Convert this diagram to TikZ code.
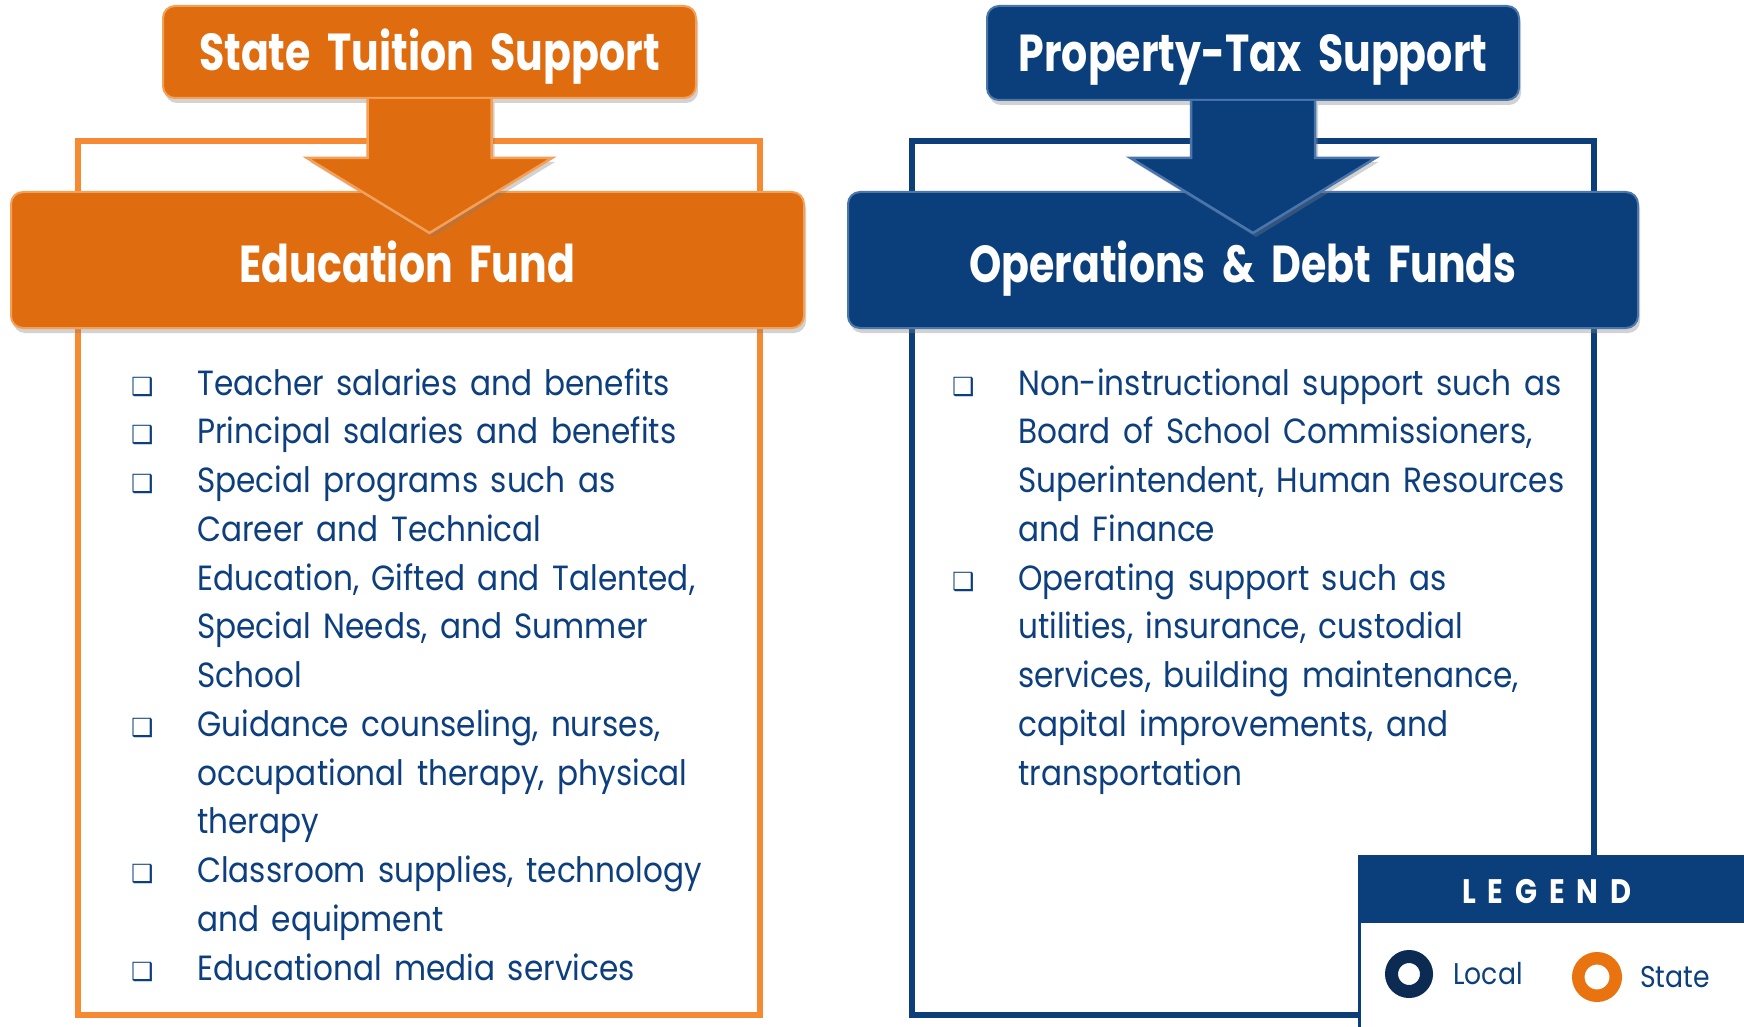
\documentclass[tikz,border=0pt]{standalone}
\usepackage{fontspec}
\setmainfont{Poppins}
\newfontfamily\hdfont{Poppins}[FakeStretch=0.79,WordSpace=1.9]
\newfontfamily\bodyfont{Poppins}[FakeStretch=0.89,WordSpace=1.5]
\newfontfamily\lgfont{Poppins}[FakeStretch=0.85,LetterSpace=35]
\newfontfamily\symfont{DejaVu Sans}
\usetikzlibrary{shadows,calc}
\definecolor{orgH}{HTML}{E06C10}
\definecolor{orgL}{HTML}{F58A32}
\definecolor{orgRim}{HTML}{F4A057}
\definecolor{bluH}{HTML}{0B3F7C}
\definecolor{bluRim}{HTML}{4A76AC}
\definecolor{bluL}{HTML}{0C3E7A}
\definecolor{txt}{HTML}{0D3F7E}
\definecolor{navy}{HTML}{0B2B52}
\definecolor{ringO}{HTML}{E8730F}
\tikzset{
  hdr/.style={rounded corners=12pt, text=white, inner sep=0pt, line width=2pt,
    font=\hdfont\bfseries\fontsize{52}{60}\selectfont, text height=37pt, text depth=0pt,
    drop shadow={shadow xshift=2pt,shadow yshift=-5pt,opacity=.35}},
  ohdr/.style={hdr, fill=orgH, draw=orgRim},
  bhdr/.style={hdr, fill=bluH, draw=bluRim},
  lowtext/.style={text height=45pt},
  blockarrow/.style={line width=2.5pt, line join=miter,
    drop shadow={shadow xshift=3pt,shadow yshift=-4pt,opacity=.35}},
  oarrow/.style={blockarrow, fill=orgH, draw=orgRim},
  barrowshape/.style={blockarrow, fill=bluH, draw=bluRim},
  panel/.style={line width=6pt, inner sep=0pt, minimum width=682pt, minimum height=874pt},
  item/.style={anchor=base west, align=left, inner sep=0pt, text=txt,
    font=\bodyfont\fontsize{35}{48.75}\selectfont},
  bul/.style={anchor=base west, inner sep=0pt, text=txt,
    font=\symfont\fontsize{25}{30}\selectfont},
  ring/.style={circle, inner sep=0pt},
  legtext/.style={anchor=base west, inner sep=0pt, text=txt,
    font=\bodyfont\fontsize{30}{36}\selectfont}
}
\begin{document}
\begin{tikzpicture}[x=1pt,y=-1pt]
\useasboundingbox[fill=white] (0,0) rectangle (1744,1027);
% panels
\node[panel, draw=orgL] (lp) at (419,578) {};
\node[panel, draw=bluL] (rp) at (1253,578) {};
% left header
\node[ohdr, lowtext, minimum width=793pt, minimum height=136pt] (ef) at (407.5,260) {Education Fund};
\node[ohdr, minimum width=533pt, minimum height=92pt] (st) at (429.5,52) {State Tuition Support};
\coordinate (eftip) at ($(st.south |- ef.north)+(0,42)$);
\coordinate (efhb) at ($(eftip)+(0,-75)$);
\path[oarrow] ($(st.south)+(-62,0)$) -- ($(efhb)+(-62,0)$) -- ($(efhb)+(-122.5,0)$) -- (eftip)
  -- ($(efhb)+(122.5,0)$) -- ($(efhb)+(62,0)$) -- ($(st.south)+(62,0)$);
% right header
\node[bhdr, lowtext, minimum width=790pt, minimum height=136pt] (od) at (1243,260) {Operations \& Debt Funds};
\node[bhdr, minimum width=532pt, minimum height=94pt] (pt) at (1253,53) {Property-Tax Support};
\coordinate (odtip) at ($(pt.south |- od.north)+(0,42)$);
\coordinate (odhb) at ($(odtip)+(0,-75)$);
\path[barrowshape] ($(pt.south)+(-62,0)$) -- ($(odhb)+(-62,0)$) -- ($(odhb)+(-122.5,0)$) -- (odtip)
  -- ($(odhb)+(122.5,0)$) -- ($(odhb)+(62,0)$) -- ($(pt.south)+(62,0)$);
% left list
\node[bul] (lb1) at (131,395) {❑};
\node[item] (li1) at (197,395) {Teacher salaries and benefits};
\node[bul] (lb2) at (131,443.75) {❑};
\node[item] (li2) at (197,443.75) {Principal salaries and benefits};
\node[bul] (lb3) at (131,492.5) {❑};
\node[item] (li3) at (197,687.5) {Special programs such as\\Career and Technical\\Education, Gifted and Talented,\\Special Needs, and Summer\\School};
\node[bul] (lb4) at (131,736.25) {❑};
\node[item] (li4) at (197,833.75) {Guidance counseling, nurses,\\occupational therapy, physical\\therapy};
\node[bul] (lb5) at (131,882.5) {❑};
\node[item] (li5) at (197,931.25) {Classroom supplies, technology\\and equipment};
\node[bul] (lb6) at (131,980) {❑};
\node[item] (li6) at (197,980) {Educational media services};
% right list
\node[bul] (rb1) at (952,395) {❑};
\node[item] (ri1) at (1018,541.25) {Non-instructional support such as\\Board of School Commissioners,\\Superintendent, Human Resources\\and Finance};
\node[bul] (rb2) at (952,590) {❑};
\node[item] (ri2) at (1018,785) {Operating support such as\\utilities, insurance, custodial\\services, building maintenance,\\capital improvements, and\\transportation};
% legend
\node[draw=bluH, fill=white, line width=3pt, anchor=north west, minimum width=400pt, minimum height=190pt, inner sep=0pt] (lgbox) at (1358,855) {};
\node[fill=bluH, anchor=north west, minimum width=400pt, minimum height=68pt, inner sep=0pt] (lghd) at (1358,855) {};
\node[anchor=base west, inner sep=0pt, text=white, font=\lgfont\bfseries\fontsize{34}{40}\selectfont] (lgt) at (1462,903) {LEGEND};
\node[ring, draw=navy, line width=13pt, minimum size=35pt] (loc) at (1409,974) {};
\node[legtext] (loct) at (1453,984) {Local};
\node[ring, draw=ringO, line width=12.5pt, minimum size=37.5pt] (sta) at (1597,977) {};
\node[legtext] (stat) at (1640,987) {State};
\end{tikzpicture}
\end{document}
